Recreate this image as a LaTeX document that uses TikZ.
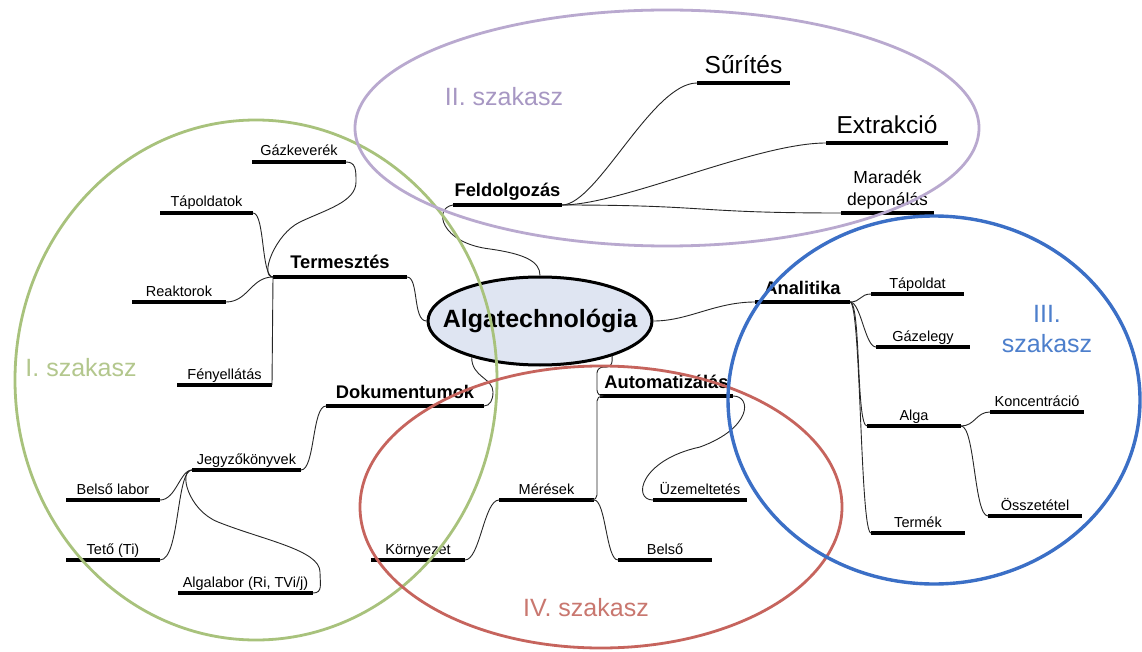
\documentclass[tikz,border=0pt]{standalone}
\usepackage{fontspec}
\setmainfont{Liberation Sans}
\usetikzlibrary{shapes.geometric}
\definecolor{cGreen}{HTML}{A8C27C}
\definecolor{cGreenT}{HTML}{B3C78D}
\definecolor{cPurple}{HTML}{B9A9CF}
\definecolor{cPurpleT}{HTML}{A797C3}
\definecolor{cBlue}{HTML}{3B6FC6}
\definecolor{cBlueT}{HTML}{4D7FCC}
\definecolor{cRed}{HTML}{C6645D}
\definecolor{cRedT}{HTML}{C9776F}
\definecolor{cCenter}{HTML}{DFE5F2}
\begin{document}
\begin{tikzpicture}[x=1pt,y=-1pt,
  leaf/.style={anchor=south, inner xsep=0pt, inner ysep=2.5pt, outer sep=0pt,
    text height=11pt, text depth=3.5pt, font=\fontsize{14.5}{17}\selectfont},
  boldleaf/.style={leaf, inner ysep=3pt, text height=14pt, text depth=5pt,
    font=\fontsize{18.3}{22}\selectfont\bfseries},
  bigleaf/.style={leaf, inner ysep=3pt, text height=18pt, text depth=6pt,
    font=\fontsize{24.5}{29}\selectfont},
  midleaf/.style={leaf, inner ysep=3pt, text height=13pt, text depth=4.5pt,
    align=center, font=\fontsize{17.5}{22}\selectfont},
  uline/.style={line width=3.2pt},
  conn/.style={line width=0.9pt, draw=black!85},
  section/.style={line width=2.8pt},
  seclabel/.style={font=\fontsize{25}{30}\selectfont, inner sep=0pt}]
\useasboundingbox (0,0) rectangle (1142,652);
\fill[white] (0,0) rectangle (1142,652);

% central node
\node[ellipse, draw, line width=3pt, fill=cCenter, minimum width=224pt,
  minimum height=88pt, inner sep=0pt, font=\fontsize{25}{30}\selectfont\bfseries]
  (alg) at (540,321) {\makebox[150pt]{Algatechnológia}};

% I. Termesztés
\node[boldleaf, minimum width=134pt] (term) at (340,277) {Termesztés};
\node[leaf, minimum width=94pt] (gaz) at (299,162) {Gázkeverék};
\node[leaf, minimum width=93pt] (tap) at (206.5,213) {Tápoldatok};
\node[leaf, minimum width=94pt] (reak) at (179,302) {Reaktorok};
\node[leaf, minimum width=95pt] (feny) at (224.5,385) {Fényellátás};
% Dokumentumok
\node[boldleaf, minimum width=158pt] (dok) at (405,406) {Dokumentumok};
\node[leaf, minimum width=109pt] (jegy) at (246.5,470) {Jegyzőkönyvek};
\node[leaf, minimum width=94pt] (belsolab) at (113,500) {Belső labor};
\node[leaf, minimum width=94pt] (teto) at (113,560) {Tető (Ti)};
\node[leaf, minimum width=135pt] (algalab) at (245.5,593) {Algalabor (Ri, TVi/j)};
% II. Feldolgozás
\node[boldleaf, minimum width=109pt] (feld) at (507.5,205) {Feldolgozás};
\node[bigleaf, minimum width=93pt] (suri) at (743.5,83) {Sűrítés};
\node[bigleaf, minimum width=122pt] (extr) at (887,143) {Extrakció};
\node[midleaf, minimum width=93pt] (mara) at (887.5,213) {Maradék\\deponálás};
% III. Analitika
\node[boldleaf, minimum width=95pt] (anal) at (802.5,302) {Analitika};
\node[leaf, minimum width=93pt] (tapo) at (917.5,294) {Tápoldat};
\node[leaf, minimum width=94pt] (gazel) at (923,347) {Gázelegy};
\node[leaf, minimum width=94pt] (alga) at (914,426) {Alga};
\node[leaf, minimum width=94pt] (term2) at (918,533) {Termék};
\node[leaf, minimum width=94pt] (konc) at (1037,412) {Koncentráció};
\node[leaf, minimum width=94pt] (ossz) at (1035,516) {Összetétel};
% IV. Automatizálás
\node[boldleaf, minimum width=133pt] (auto) at (666.5,396) {Automatizálás};
\node[leaf, minimum width=95pt] (meres) at (546.5,500) {Mérések};
\node[leaf, minimum width=94pt] (korny) at (418,560) {Környezet};
\node[leaf, minimum width=94pt] (belso) at (665,560) {Belső};
\node[leaf, minimum width=94pt] (uzem) at (700,500) {Üzemeltetés};

% underlines
\foreach \n in {term,gaz,tap,reak,feny,dok,jegy,belsolab,teto,algalab,feld,suri,extr,
  mara,anal,tapo,gazel,alga,term2,konc,ossz,auto,meres,korny,belso,uzem}
  \draw[uline] (\n.south west) -- (\n.south east);

% connectors
\draw[conn] (term.south east) .. controls +(12,0) and +(-14,0) .. (alg.west);
\draw[conn] (gaz.south east) .. controls +(10,0) and +(0,-12) .. (356,182)
  .. controls +(0,20) and +(25,-12) .. (300,222)
  .. controls +(-25,12) and +(-14,0) .. (term.south west);
\draw[conn] (tap.south east) .. controls +(12,0) and +(-12,0) .. (term.south west);
\draw[conn] (reak.south east) .. controls +(22,0) and +(-22,0) .. (term.south west);
\draw[conn] (feny.south east) -- (term.south west);

\draw[conn] (alg.208) .. controls +(0,20) and +(0,-14) .. (493,392)
  .. controls +(0,8) and +(6,0) .. (dok.south east);
\draw[conn] (jegy.south east) .. controls +(14,0) and +(-14,0) .. (dok.south west);
\draw[conn] (belsolab.south east) .. controls +(16,0) and +(-12,0) .. (jegy.south west);
\draw[conn] (teto.south east) .. controls +(20,0) and +(-16,0) .. (jegy.south west);
\draw[conn] (algalab.south east) .. controls +(10,0) and +(0,12) .. (320,572)
  .. controls +(0,-22) and +(45,18) .. (218,522)
  .. controls +(-30,-12) and +(-14,0) .. (jegy.south west);

\draw[conn] (feld.south west) .. controls +(-20,3) and +(-50,-6) .. (490,249)
  .. controls +(35,5) and +(0,-14) .. (alg.north);
\draw[conn] (feld.south east) .. controls +(35,0) and +(-45,0) .. (suri.south west);
\draw[conn] (feld.south east) .. controls +(60,0) and +(-70,0) .. (extr.south west);
\draw[conn] (feld.south east) .. controls +(150,0) and +(-150,0) .. (mara.south west);

\draw[conn] (alg.east) .. controls +(35,0) and +(-40,0) .. (anal.south west);
\foreach \t in {tapo,gazel,alga,term2}
  \draw[conn] (anal.south east) .. controls +(11,0) and +(-11,0) .. (\t.south west);
\foreach \t in {konc,ossz}
  \draw[conn] (alga.south east) .. controls +(14,0) and +(-14,0) .. (\t.south west);

\draw[conn, rounded corners=6pt] (alg.334) -- ++(0,11) -| (597,396) -- (auto.south west);
\draw[conn, rounded corners=5pt] (meres.south east) -| (597,396) -- (auto.south west);
\draw[conn] (korny.south east) .. controls +(15,0) and +(-15,0) .. (meres.south west);
\draw[conn] (meres.south east) .. controls +(12,0) and +(-12,0) .. (belso.south west);
\draw[conn] (auto.south east) .. controls +(19,0) and +(52,-19) .. (700,447)
  .. controls +(-60,13) and +(-21,0) .. (uzem.south west);

% section ellipses
\draw[section, cGreen] (256,380) ellipse [x radius=241pt, y radius=260pt];
\draw[section, cPurple] (667,128) ellipse [x radius=312pt, y radius=118pt];
\draw[section, cRed] (601,507) ellipse [x radius=241pt, y radius=141pt];
\draw[section, cBlue, line width=3.4pt] (934,400) ellipse [x radius=206pt, y radius=184pt];

% section labels
\node[seclabel, text=cGreenT] (s1) at (81,368) {I. szakasz};
\node[seclabel, text=cPurpleT] (s2) at (504,97) {II. szakasz};
\node[seclabel, text=cBlueT, align=center] (s3) at (1047,329) {III.\\szakasz};
\node[seclabel, text=cRedT] (s4) at (586,608) {IV. szakasz};
\end{tikzpicture}
\end{document}
